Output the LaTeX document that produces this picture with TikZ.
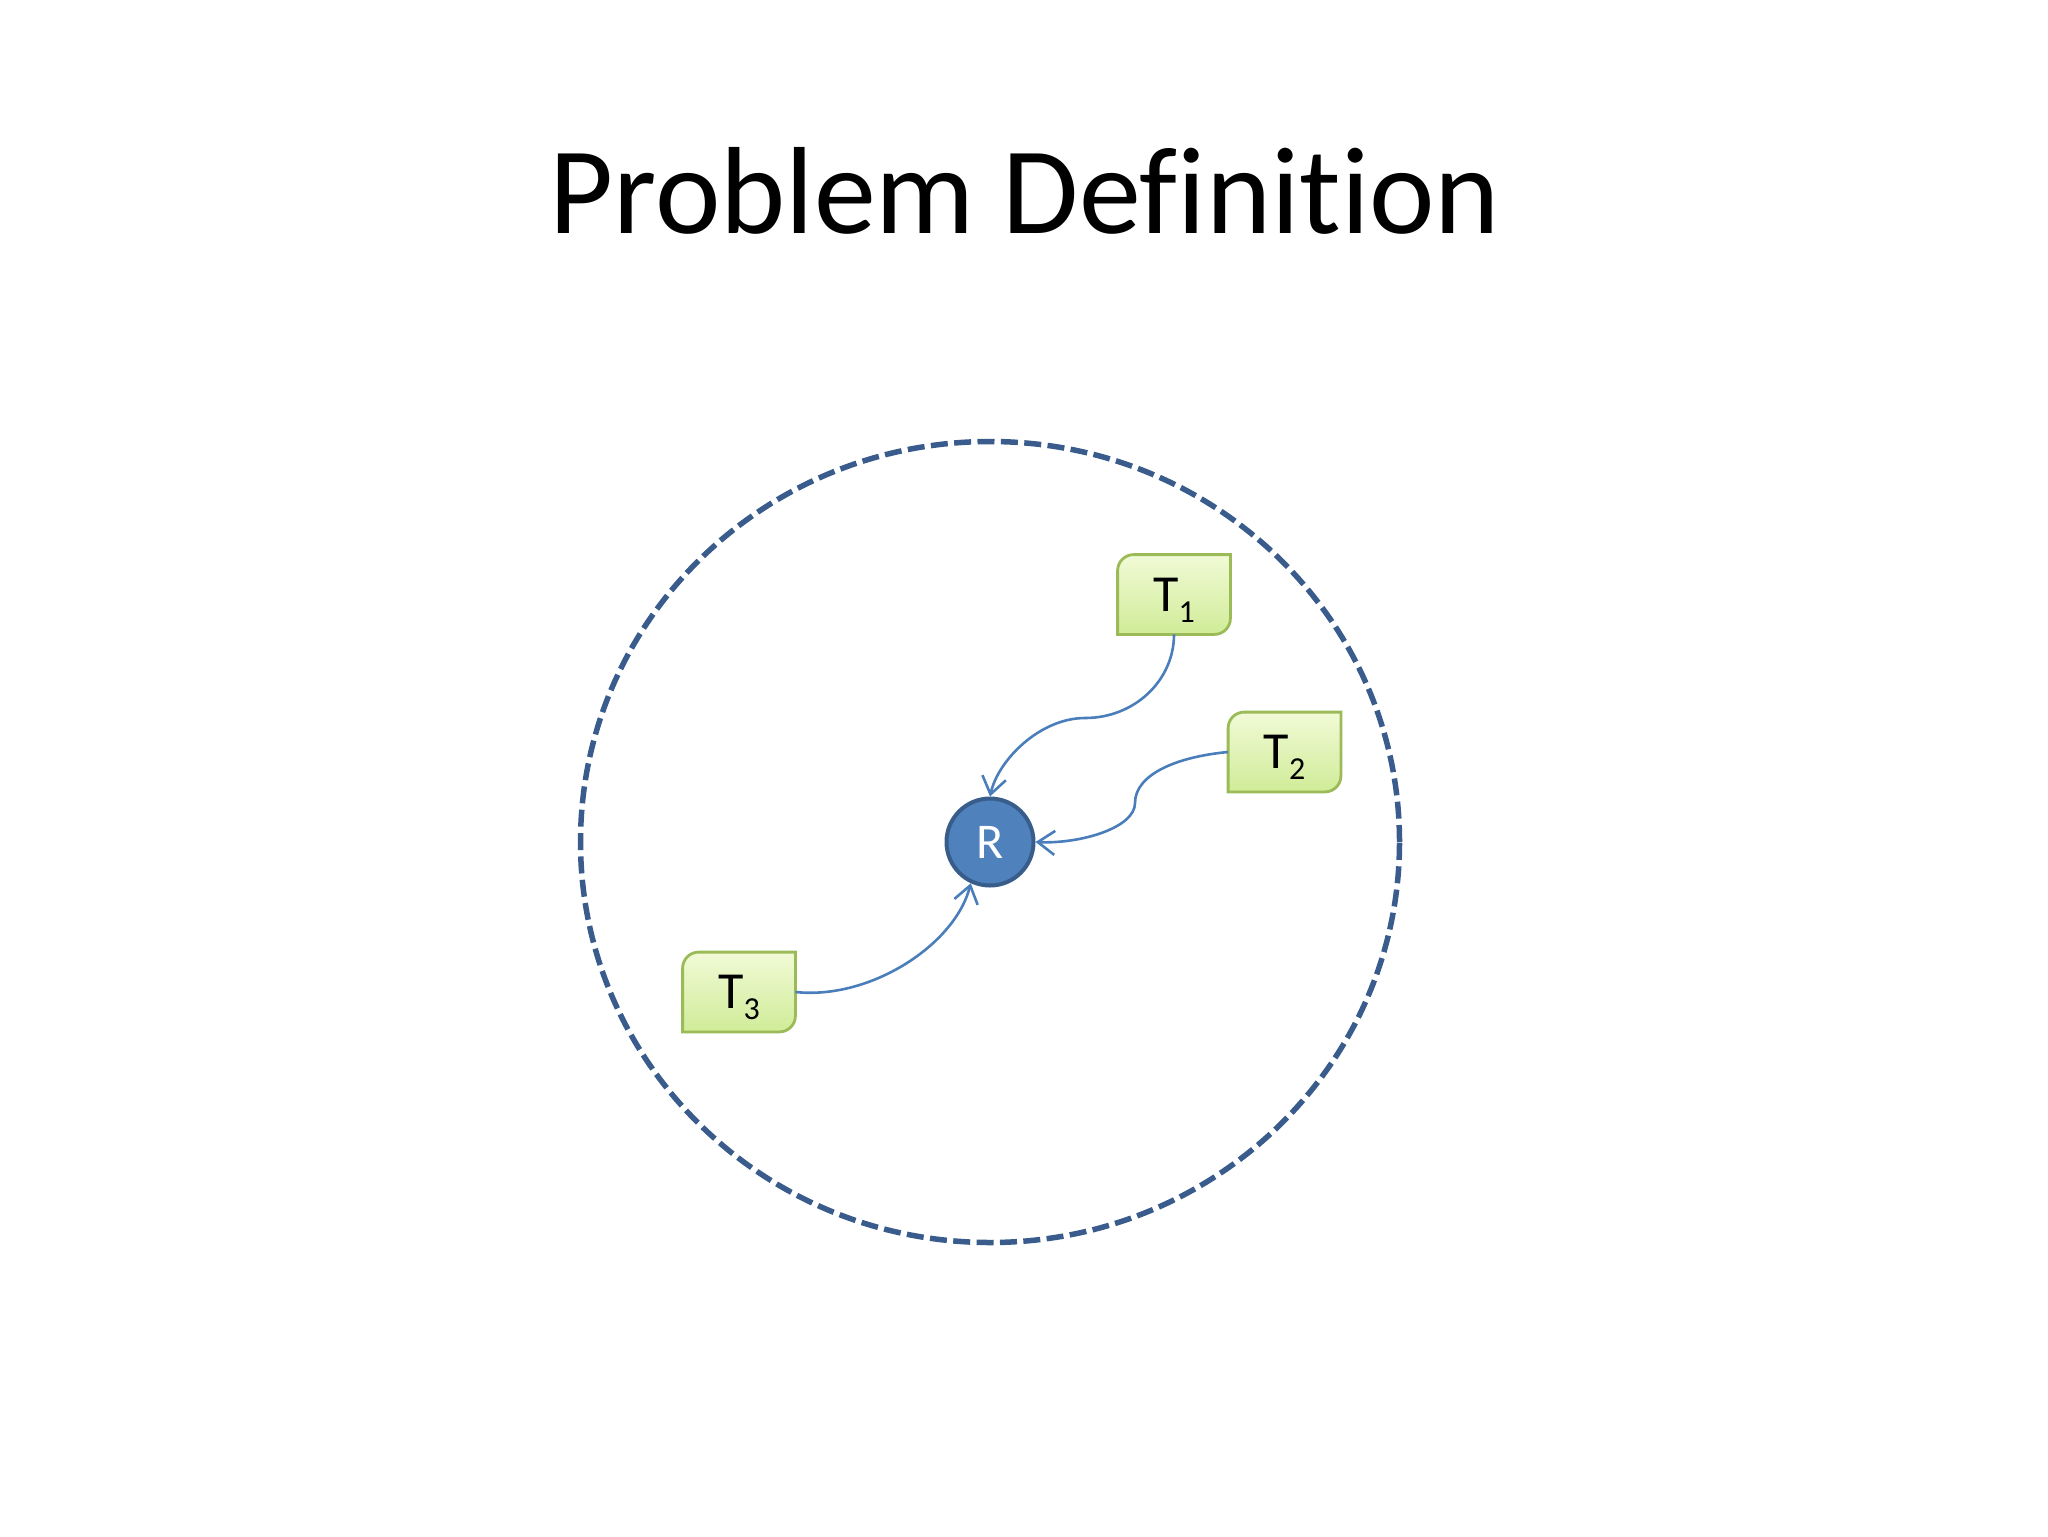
\documentclass[tikz,border=0pt]{standalone}
\usepackage{fontspec}
\setmainfont{Carlito}[Ligatures={NoCommon,NoRequired,NoContextual}]
\usetikzlibrary{arrows.meta}
\pgfdeclarelayer{background}
\pgfsetlayers{background,main}
\definecolor{ringblue}{HTML}{3A5C8C}
\definecolor{rfill}{HTML}{4F81BD}
\definecolor{rline}{HTML}{385D8A}
\definecolor{conn}{HTML}{4A7EBB}
\definecolor{boxline}{HTML}{9BBB59}
\definecolor{boxtop}{HTML}{F1FAD6}
\definecolor{boxbot}{HTML}{D0EC98}
\tikzset{
  tbox/.style={minimum width=56pt,minimum height=39.5pt,inner sep=0pt,
    font=\fontsize{26}{28}\selectfont},
  rnode/.style={circle,draw=rline,line width=2pt,fill=rfill,minimum size=43.5pt,
    inner sep=0pt,text=white,font=\fontsize{25}{28}\selectfont},
  conline/.style={draw=conn,line width=1.3pt,-{Straight Barb[length=8.5pt,width=12pt]}},
  ring/.style={draw=ringblue,line width=2.75pt,dash pattern=on 8.5pt off 3.2pt}
}
\newcommand{\sub}[1]{\smash{\raisebox{-5.5pt}{\fontsize{16}{16}\selectfont #1}}}
\newcommand{\boxpath}[1]{%
  ([yshift=-8pt]#1.north west) .. controls ([yshift=-3.6pt]#1.north west) and ([xshift=3.6pt]#1.north west) .. ([xshift=8pt]#1.north west)
  -- (#1.north east) -- ([yshift=8pt]#1.south east)
  .. controls ([yshift=3.6pt]#1.south east) and ([xshift=-3.6pt]#1.south east) .. ([xshift=-8pt]#1.south east) -- (#1.south west) -- cycle}
\newcommand{\boxshape}[1]{%
  \begin{pgfonlayer}{background}
    \fill[black,opacity=0.2,xshift=1.5pt,yshift=-2.5pt] \boxpath{#1};
    \shade[top color=boxtop,bottom color=boxbot,draw=boxline,line width=1.4pt] \boxpath{#1};
  \end{pgfonlayer}}
\begin{document}
\begin{tikzpicture}[x=0.5pt,y=-0.5pt]
\useasboundingbox (0,0) rectangle (2048,1536);
\node[font=\fontsize{62}{70}\selectfont,anchor=base] (title) at (1025,233) {Problem Def\kern0pt ini\kern0pt tion};
\draw[ring] (990,842) ellipse [x radius=204.75pt, y radius=200.25pt];
\node[rnode] (R) at (990,842) {R};
\node[tbox] (T1) at (1174,594.5) {T\sub{1}};
\node[tbox] (T2) at (1284.5,752) {T\sub{2}};
\node[tbox] (T3) at (739,992) {T\sub{3}};
\boxshape{T1}
\boxshape{T2}
\boxshape{T3}
\coordinate (m1) at (1085,718);
\coordinate (m2) at (1135,803);
\draw[conline] (T1.south) .. controls (1174,680) and (1135,718) .. (m1)
  .. controls (1040,718) and (998,760) .. (R.north);
\draw[conline] (T2.west) .. controls (1175,757) and (1135,775) .. (m2)
  .. controls (1135,828) and (1080,844) .. (R.east);
\draw[conline] (T3.east) .. controls (870,1000) and (955,945) .. (R.245);
\end{tikzpicture}
\end{document}
